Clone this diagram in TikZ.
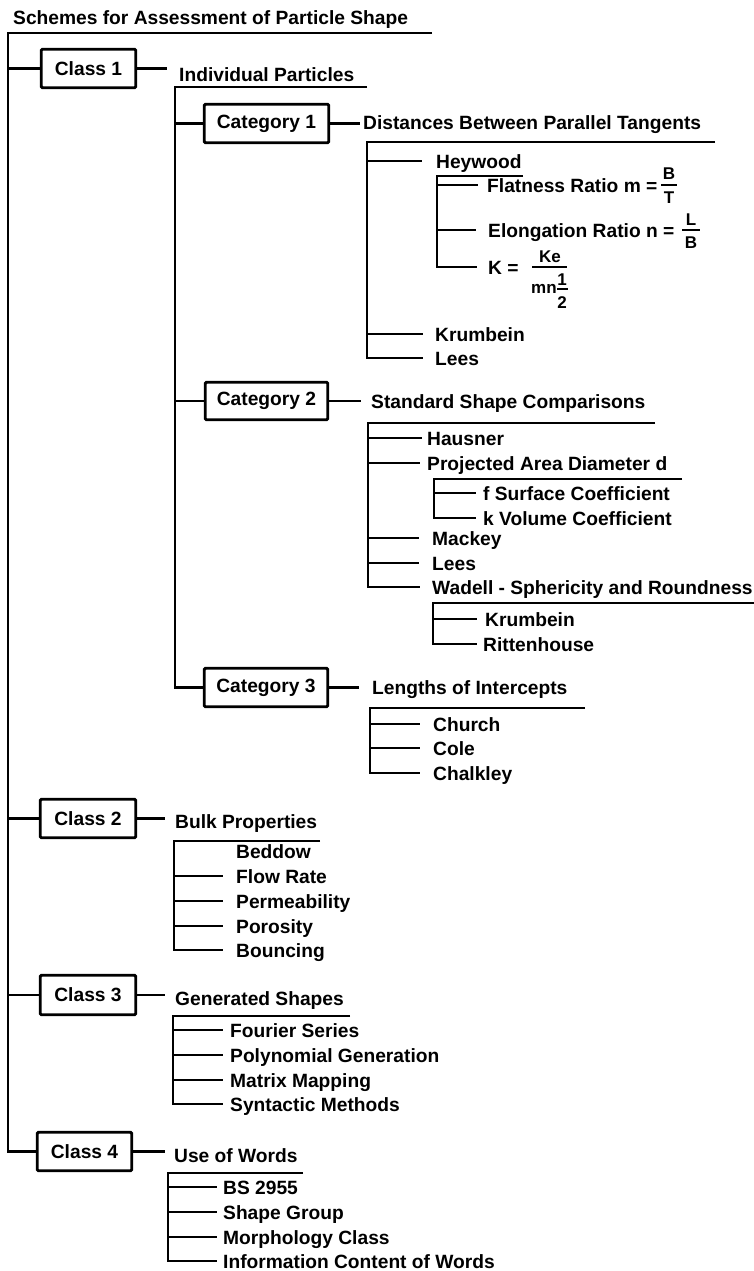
\documentclass[tikz,border=0pt]{standalone}
\usepackage{fontspec}
\setmainfont{Liberation Sans}
\newcommand\mybr[3]{\draw[ln,shorten >=#3pt] (#1 |- #2.west) -- (#2.west);}
\begin{document}
\begin{tikzpicture}[x=1pt,y=-1pt,
  ln/.style={line width=2.1pt,black},
  barl/.style={line width=1.7pt,black},
  lbl/.style={anchor=base west,inner sep=0pt,text height=13.5pt,text depth=0pt,
    font=\bfseries\fontsize{19.2}{22}\selectfont,text=black},
  frn/.style={anchor=base,inner sep=0pt,font=\bfseries\fontsize{17}{20}\selectfont,text=black},
  frw/.style={anchor=base west,inner sep=0pt,font=\bfseries\fontsize{17}{20}\selectfont,text=black},
  boxn/.style={draw,line width=2.9pt,rounded corners=1.2pt,inner sep=0pt,
    minimum height=38.5pt,font=\bfseries\fontsize{19.2}{22}\selectfont,text=black}]
\useasboundingbox (0,0) rectangle (754,1271);
\fill[white] (0,0) rectangle (754,1271);

% title and main spine
\node[lbl] (title) at (13,25) {Schemes for Assessment of Particle Shape};
\coordinate (t0) at (8,33);
\coordinate (t1) at (432,33);

% class boxes
\node[boxn,minimum width=94.5pt] (c1) at (88.5,68.5) {Class 1};
\node[boxn,minimum width=95.5pt] (c2) at (88,818.5) {Class 2};
\node[boxn,minimum width=95.5pt,minimum height=39.5pt] (c3) at (88,995) {Class 3};
\node[boxn,minimum width=94.5pt] (c4) at (84.5,1151.5) {Class 4};
\draw[ln] (t1) -- (t0) |- (c4.west);
\foreach \n in {c1,c2,c3} \draw[ln] (t0 |- \n.west) -- (\n.west);

% ===== Class 1 =====
\node[lbl] (ip) at (179,82) {Individual Particles};
\draw[ln,shorten >=12pt] (c1.east) -- (c1.east -| ip.west);
\coordinate (u1s) at (175,87); \coordinate (u1e) at (367,87);

\node[boxn,minimum width=124.5pt] (k1) at (266.5,123.5) {Category 1};
\node[boxn,minimum width=122.5pt,minimum height=37.5pt] (k2) at (266.5,401) {Category 2};
\node[boxn,minimum width=123.5pt] (k3) at (266,687.5) {Category 3};
\draw[ln] (u1e) -- (u1s) |- (k3.west);
\draw[ln] (u1s |- k1.west) -- (k1.west);
\draw[ln] (u1s |- k2.west) -- (k2.west);

% --- Category 1 ---
\node[lbl] (dbt) at (363,129) {Distances Between Parallel Tangents};
\draw[ln,shorten >=3pt] (k1.east) -- (k1.east -| dbt.west);
\coordinate (u2s) at (367,142); \coordinate (u2e) at (715,142);
\node[lbl] (hey) at (436,168) {Heywood};
\node[lbl] (kru1) at (435,341) {Krumbein};
\node[lbl] (lee1) at (435,365) {Lees};
\draw[ln,shorten >=12pt] (u2e) -- (u2s) |- (lee1.west);
\mybr{u2s}{hey}{14}
\mybr{u2s}{kru1}{12}

\coordinate (u3s) at (437,176); \coordinate (u3e) at (523,176);
\node[lbl] (flat) at (487,192) {Flatness Ratio m =};
\node[lbl] (elon) at (488,237) {Elongation Ratio n =};
\node[lbl] (kk) at (488,274) {K =};
\draw[ln,shorten >=11pt] (u3e) -- (u3s) |- (kk.west);
\mybr{u3s}{flat}{9}
\mybr{u3s}{elon}{12}
% fractions
\node[frn] (fb) at (669,179) {B};
\node[frn] (ft) at (669,203) {T};
\draw[barl] (661,185) -- (677,185);
\node[frn] (el) at (691,225) {L};
\node[frn] (eb) at (691,248) {B};
\draw[barl] (682,230) -- (700,230);
\node[frn] (ke) at (550,262) {Ke};
\draw[barl] (532,267) -- (567,267);
\node[frw] (mn) at (531,293) {mn};
\node[frn] (h1) at (562,285) {1};
\draw[barl] (557,289) -- (568,289);
\node[frn] (h2) at (562,308) {2};

% --- Category 2 ---
\node[lbl] (ssc) at (371,408) {Standard Shape Comparisons};
\draw[ln,shorten >=10pt] (k2.east) -- (k2.east -| ssc.west);
\coordinate (u4s) at (368,423); \coordinate (u4e) at (655,423);
\node[lbl] (hau) at (427,445) {Hausner};
\node[lbl] (pad) at (427,470) {Projected Area Diameter d};
\node[lbl] (mac) at (432,545) {Mackey};
\node[lbl] (lee2) at (432,570) {Lees};
\node[lbl] (wad) at (432,594) {Wadell - Sphericity and Roundness};
\draw[ln,shorten >=12pt] (u4e) -- (u4s) |- (wad.west);
\mybr{u4s}{hau}{5}
\mybr{u4s}{pad}{7}
\mybr{u4s}{mac}{13}
\mybr{u4s}{lee2}{13}

\coordinate (u5s) at (434,479); \coordinate (u5e) at (682,479);
\node[lbl] (fsc) at (483,500) {f Surface Coefficient};
\node[lbl] (kvc) at (483,525) {k Volume Coefficient};
\draw[ln,shorten >=7pt] (u5e) -- (u5s) |- (kvc.west);
\mybr{u5s}{fsc}{7}

\coordinate (u6s) at (433,603); \coordinate (u6e) at (754,603);
\node[lbl] (kru2) at (485,626) {Krumbein};
\node[lbl] (rit) at (483,651) {Rittenhouse};
\draw[ln,shorten >=6pt] (u6e) -- (u6s) |- (rit.west);
\mybr{u6s}{kru2}{8}

% --- Category 3 ---
\node[lbl] (loi) at (372,694) {Lengths of Intercepts};
\draw[ln,shorten >=13pt] (k3.east) -- (k3.east -| loi.west);
\coordinate (u7s) at (370,708); \coordinate (u7e) at (585,708);
\node[lbl] (chu) at (433,731) {Church};
\node[lbl] (col) at (433,755) {Cole};
\node[lbl] (cha) at (433,780) {Chalkley};
\draw[ln,shorten >=13pt] (u7e) -- (u7s) |- (cha.west);
\mybr{u7s}{chu}{13}
\mybr{u7s}{col}{13}

% ===== Class 2 =====
\node[lbl] (bul) at (175,828) {Bulk Properties};
\draw[ln,shorten >=10pt] (c2.east) -- (c2.east -| bul.west);
\coordinate (u8s) at (174,841); \coordinate (u8e) at (320,841);
\node[lbl] (bed) at (236,858) {Beddow};
\node[lbl] (flo) at (236,883) {Flow Rate};
\node[lbl] (per) at (236,908) {Permeability};
\node[lbl] (por) at (236,933) {Porosity};
\node[lbl] (bou) at (236,957) {Bouncing};
\draw[ln,shorten >=13pt] (u8e) -- (u8s) |- (bou.west);
\mybr{u8s}{flo}{13}
\mybr{u8s}{per}{13}
\mybr{u8s}{por}{13}

% ===== Class 3 =====
\node[lbl] (gen) at (175,1005) {Generated Shapes};
\draw[ln,shorten >=10pt] (c3.east) -- (c3.east -| gen.west);
\coordinate (u9s) at (173,1016); \coordinate (u9e) at (350,1016);
\node[lbl] (fou) at (230,1037) {Fourier Series};
\node[lbl] (pol) at (230,1062) {Polynomial Generation};
\node[lbl] (mat) at (230,1087) {Matrix Mapping};
\node[lbl] (syn) at (230,1111) {Syntactic Methods};
\draw[ln,shorten >=7pt] (u9e) -- (u9s) |- (syn.west);
\mybr{u9s}{fou}{7}
\mybr{u9s}{pol}{7}
\mybr{u9s}{mat}{7}

% ===== Class 4 =====
\node[lbl] (use) at (174,1162) {Use of Words};
\draw[ln,shorten >=9pt] (c4.east) -- (c4.east -| use.west);
\coordinate (uas) at (168,1173); \coordinate (uae) at (303,1173);
\node[lbl] (bs) at (223,1194) {BS 2955};
\node[lbl] (shg) at (223,1219) {Shape Group};
\node[lbl] (mor) at (223,1244) {Morphology Class};
\node[lbl] (inf) at (223,1268) {Information Content of Words};
\draw[ln,shorten >=6pt] (uae) -- (uas) |- (inf.west);
\mybr{uas}{bs}{6}
\mybr{uas}{shg}{6}
\mybr{uas}{mor}{6}
\end{tikzpicture}
\end{document}
